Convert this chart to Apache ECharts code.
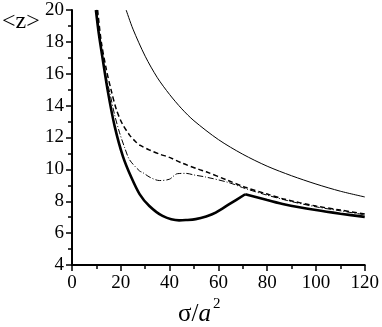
<!DOCTYPE html>
<html>
<head>
<meta charset="utf-8">
<script src="https://cdn.jsdelivr.net/npm/echarts@6/dist/echarts.min.js"></script>
<style>
html,body{margin:0;padding:0;background:#fff;}
#chart{width:382px;height:327px;}
</style>
</head>
<body>
<div id="chart"></div>
<script>
/*数据*/
// 粗实线：拐点(71)前后分两段
var thickX1 = [9.8, 11, 12.5, 14.8, 17.5, 20.9, 24.3, 27.7, 31.7, 37.1, 43.9, 46.7, 50.7, 55, 58.9, 64.3, 71];
var thickY1 = [20, 18.5, 17, 14.8, 12.7, 10.8, 9.5, 8.45, 7.7, 7.08, 6.8, 6.82, 6.88, 7.05, 7.29, 7.8, 8.44];
var thickX2 = [71, 80, 87.3, 100, 110, 120];
var thickY2 = [8.44, 8.08, 7.8, 7.45, 7.22, 7.02];
var dashX = [10.5, 12, 14.1, 16, 18.2, 20.5, 23.6, 26, 28, 32, 36, 40, 45, 52, 55, 64, 71, 80, 87.3, 100, 110, 120];
var dashY = [20, 18, 16.25, 15, 13.75, 12.9, 12.15, 11.75, 11.5, 11.2, 10.95, 10.75, 10.4, 10.0, 9.85, 9.3, 8.88, 8.45, 8.12, 7.7, 7.45, 7.2];
var dotX = [10.3, 11.5, 13, 15.5, 17.5, 19.5, 21.5, 23.6, 27.7, 29, 32, 35.8, 39.9, 43.2, 46.7, 50, 54.8, 64.3, 71, 80, 90, 100, 110, 120];
var dotY = [20, 18.2, 16.5, 14.8, 13.4, 12.3, 11.4, 10.6, 9.9, 9.8, 9.5, 9.3, 9.38, 9.73, 9.75, 9.65, 9.52, 9.17, 8.8, 8.38, 7.98, 7.65, 7.4, 7.15];
var thinX = [22.2, 25, 30, 35, 40, 45, 50, 60, 70, 80, 90, 100, 110, 120];
var thinY = [20, 18.8, 17.1, 15.75, 14.7, 13.8, 13.05, 11.87, 10.95, 10.2, 9.6, 9.08, 8.63, 8.27];

function pairs(xs, ys){
	var out = [];
	for(var i = 0; i < xs.length; i++){
		out.push([xs[i], ys[i]]);
	}
	return out;
}

var serif = '"Liberation Serif", "Times New Roman", serif';

function lineSeries(data, width, type){
	return {
		type: 'line',
		data: data,
		smooth: 0.3,
		symbol: 'none',
		lineStyle: {color: '#000', width: width, type: type},
		z: 3
	};
}

var chart = echarts.init(document.getElementById('chart'));
var option = {
	animation: false,
	grid: {left: 72, right: 15, top: 10, bottom: 62},
	xAxis: {
		type: 'value', min: 0, max: 120, interval: 20,
		axisLine: {lineStyle: {color: '#000', width: 2}},
		axisTick: {show: true, inside: false, length: 6, lineStyle: {color: '#000', width: 1.5}},
		minorTick: {show: true, splitNumber: 2, length: 4, lineStyle: {color: '#000', width: 1.5}},
		splitLine: {show: false},
		axisLabel: {color: '#000', fontFamily: serif, fontSize: 19, margin: 9}
	},
	yAxis: {
		type: 'value', min: 4, max: 20, interval: 2,
		axisLine: {show: true, lineStyle: {color: '#000', width: 2}},
		axisTick: {show: true, inside: false, length: 6, lineStyle: {color: '#000', width: 1.5}},
		minorTick: {show: true, splitNumber: 2, length: 4, lineStyle: {color: '#000', width: 1.5}},
		splitLine: {show: false},
		axisLabel: {color: '#000', fontFamily: serif, fontSize: 19, margin: 8}
	},
	graphic: [
		{
			type: 'text', left: 2, top: 10,
			style: {text: '<z>', font: '24px ' + serif, fill: '#000'}
		},
		{
			type: 'text', left: 178, top: 297,
			style: {
				text: '{n|σ/}{i|a}{s|2}',
				fill: '#000',
				rich: {
					n: {fontFamily: serif, fontSize: 25, lineHeight: 30, verticalAlign: 'bottom'},
					i: {fontFamily: serif, fontSize: 25, fontStyle: 'italic', lineHeight: 30, verticalAlign: 'bottom'},
					s: {fontFamily: serif, fontSize: 15, lineHeight: 30, verticalAlign: 'top', padding: [0, 0, 0, 2]}
				}
			}
		}
	],
	series: [
		lineSeries(pairs(thinX, thinY), 1, 'solid'),
		lineSeries(pairs(dashX, dashY), 1.5, [5, 3]),
		lineSeries(pairs(dotX, dotY), 1, [6, 2, 1, 2]),
		lineSeries(pairs(thickX1, thickY1), 2.6, 'solid'),
		lineSeries(pairs(thickX2, thickY2), 2.6, 'solid')
	]
};
chart.setOption(option);
</script>
</body>
</html>
